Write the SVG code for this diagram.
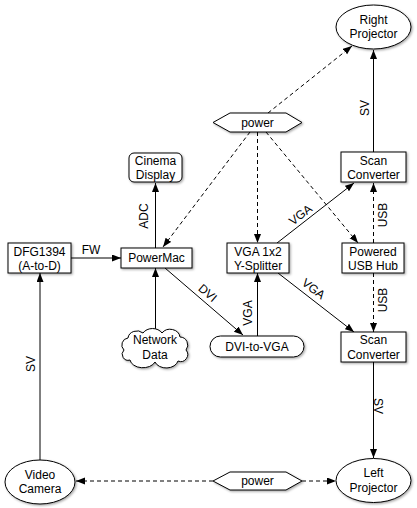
<svg xmlns="http://www.w3.org/2000/svg" width="417" height="508" viewBox="0 0 417 508">
<defs>
<filter id="sh" x="-20%" y="-20%" width="140%" height="140%">
<feDropShadow dx="1.2" dy="1.2" stdDeviation="0.8" flood-color="#000" flood-opacity="0.35"/>
</filter>
<marker id="ah" markerUnits="userSpaceOnUse" markerWidth="10" markerHeight="8" refX="9" refY="3.5" orient="auto">
<path d="M0,0 L9,3.5 L0,7 z" fill="#000"/>
</marker>
</defs>
<style>
.n{fill:#fff;stroke:#000;stroke-width:1;filter:url(#sh)}
.t{font-family:"Liberation Sans",Arial,sans-serif;font-size:12px;fill:#000;text-anchor:middle}
.c{fill:none;stroke:#000;stroke-width:1;marker-end:url(#ah)}
.d{stroke-dasharray:4,3}
</style>

<g id="connectors">
<line class="c d" x1="268" y1="113" x2="352" y2="46"/>
<line class="c" x1="373.5" y1="152" x2="373.5" y2="50"/>
<line class="c d" x1="250" y1="132" x2="163" y2="247"/>
<line class="c d" x1="257.5" y1="132" x2="257.5" y2="243"/>
<line class="c d" x1="266" y1="132" x2="358" y2="243"/>
<line class="c" x1="155.5" y1="248" x2="155.5" y2="183"/>
<line class="c" x1="71" y1="258" x2="121" y2="258"/>
<line class="c" x1="155.5" y1="332" x2="155.5" y2="268"/>
<line class="c" x1="165" y1="268" x2="243" y2="335"/>
<line class="c" x1="257.5" y1="336" x2="257.5" y2="273"/>
<line class="c" x1="277" y1="243" x2="354" y2="183"/>
<line class="c" x1="278" y1="273" x2="354" y2="332"/>
<line class="c d" x1="373.5" y1="243" x2="373.5" y2="183"/>
<line class="c d" x1="373.5" y1="273" x2="373.5" y2="332"/>
<line class="c" x1="373.5" y1="362" x2="373.5" y2="458"/>
<line class="c" x1="40" y1="460" x2="40" y2="273"/>
<line class="c d" x1="213" y1="481" x2="76" y2="481"/>
<line class="c d" x1="302" y1="481" x2="336" y2="481"/>
<text class="t" transform="translate(369,108) rotate(-90)">SV</text>
<text class="t" transform="translate(148,216) rotate(-90)">ADC</text>
<text class="t" x="91" y="254">FW</text>
<text class="t" transform="translate(303,218) rotate(-38)">VGA</text>
<text class="t" transform="translate(387,215) rotate(-90)">USB</text>
<text class="t" transform="translate(387,300) rotate(-90)">USB</text>
<text class="t" transform="translate(205,296) rotate(41)">DVI</text>
<text class="t" transform="translate(252,313) rotate(-90)">VGA</text>
<text class="t" transform="translate(311,292) rotate(38)">VGA</text>
<text class="t" transform="translate(374,406) rotate(90)">SV</text>
<text class="t" transform="translate(35,364) rotate(-90)">SV</text>
</g>

<g id="right-projector">
<ellipse class="n" cx="373.5" cy="27" rx="37.5" ry="22"/>
<text class="t" x="373.5" y="24">Right</text>
<text class="t" x="373.5" y="38">Projector</text>
</g>

<g id="power-top">
<polygon class="n" points="213,122.5 230,113 286,113 302,122.5 286,132 230,132"/>
<text class="t" x="257.5" y="126.5">power</text>
</g>

<g id="cinema-display">
<rect class="n" x="129" y="153" width="53" height="29" rx="5"/>
<text class="t" x="155.5" y="165">Cinema</text>
<text class="t" x="155.5" y="179">Display</text>
</g>

<g id="scan-converter-top">
<rect class="n" x="341" y="152" width="65" height="30"/>
<text class="t" x="373.5" y="165">Scan</text>
<text class="t" x="373.5" y="179">Converter</text>
</g>

<g id="dfg1394">
<rect class="n" x="8" y="243" width="63" height="30"/>
<text class="t" x="39.5" y="256">DFG1394</text>
<text class="t" x="39.5" y="270">(A-to-D)</text>
</g>

<g id="powermac">
<rect class="n" x="121" y="248" width="71" height="20"/>
<text class="t" x="156.5" y="262">PowerMac</text>
</g>

<g id="y-splitter">
<rect class="n" x="227" y="243" width="62" height="30"/>
<text class="t" x="258" y="256">VGA 1x2</text>
<text class="t" x="258" y="270">Y-Splitter</text>
</g>

<g id="usb-hub">
<rect class="n" x="342" y="243" width="62" height="30"/>
<text class="t" x="373" y="256">Powered</text>
<text class="t" x="373" y="270">USB Hub</text>
</g>

<g id="network-data">
<path class="n" d="M130,360 A6,6 0 0 1 124,350 A7,7 0 0 1 128,338 A9,8 0 0 1 143,333 A11,9 0 0 1 162,333 A10,9 0 0 1 180,337 A8,8 0 0 1 186,350 A7,7 0 0 1 178,361 A12,9 0 0 1 155,362 A13,9 0 0 1 130,360 Z"/>
<text class="t" x="155" y="344">Network</text>
<text class="t" x="155" y="359">Data</text>
</g>

<g id="dvi-to-vga">
<rect class="n" x="210" y="336" width="94" height="21" rx="10.5"/>
<text class="t" x="257" y="351">DVI-to-VGA</text>
</g>

<g id="scan-converter-bottom">
<rect class="n" x="341" y="332" width="65" height="30"/>
<text class="t" x="373.5" y="344">Scan</text>
<text class="t" x="373.5" y="359">Converter</text>
</g>

<g id="video-camera">
<ellipse class="n" cx="40" cy="482" rx="35" ry="22"/>
<text class="t" x="40" y="479">Video</text>
<text class="t" x="40" y="493">Camera</text>
</g>

<g id="power-bottom">
<polygon class="n" points="213,481 230,472 286,472 302,481 286,490 230,490"/>
<text class="t" x="257.5" y="485">power</text>
</g>

<g id="left-projector">
<ellipse class="n" cx="373.5" cy="480.5" rx="37.5" ry="22"/>
<text class="t" x="373.5" y="477">Left</text>
<text class="t" x="373.5" y="492">Projector</text>
</g>
</svg>
